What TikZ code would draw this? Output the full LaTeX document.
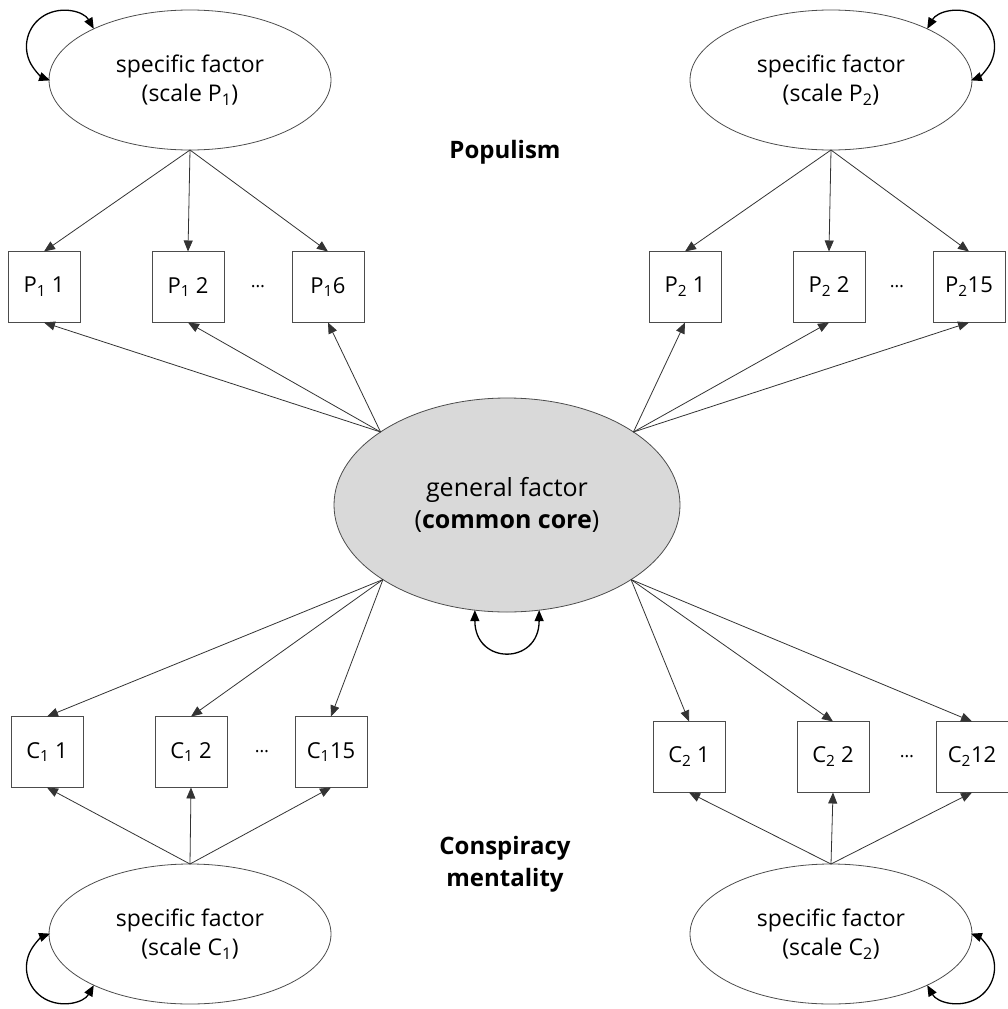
\documentclass[tikz,border=0pt]{standalone}
\usepackage{fontspec}
\setmainfont{Open Sans}
\usetikzlibrary{arrows.meta,shapes.geometric,calc}
\begin{document}
\begin{tikzpicture}[x=1pt,y=1pt,
  lat/.style={ellipse,draw=black!70,line width=0.8pt,minimum width=282pt,minimum height=140pt,inner sep=0pt,outer sep=0pt,align=center,font=\fontsize{23}{29}\selectfont},
  gen/.style={ellipse,draw=black!70,fill=black!15,line width=0.8pt,minimum width=346pt,minimum height=214pt,inner sep=0pt,outer sep=0pt,align=center,font=\fontsize{25}{32}\selectfont},
  obs/.style={rectangle,draw=black!70,line width=0.8pt,minimum width=72pt,minimum height=71pt,inner sep=0pt,outer sep=0pt,font=\fontsize{22}{26}\selectfont},
  dotlbl/.style={font=\fontsize{18}{20}\selectfont,inner sep=0pt},
  ttl/.style={font=\bfseries\fontsize{24}{32}\selectfont,align=center,inner sep=0pt},
  ld/.style={draw=black!80,line width=0.8pt,-{Triangle[length=11pt,width=9pt]}},
  cov/.style={draw=black,line width=1.3pt,{Triangle[length=11pt,width=9pt]}-{Triangle[length=11pt,width=9pt]}}
]
\useasboundingbox (0,0) rectangle (1008,-1009);
% latent variables
\node[lat] (P1) at (190,-80) {specific factor\\(scale P\textsubscript{1})};
\node[lat] (P2) at (831,-80) {specific factor\\(scale P\textsubscript{2})};
\node[lat] (C1) at (190,-934) {specific factor\\(scale C\textsubscript{1})};
\node[lat] (C2) at (831,-934) {specific factor\\(scale C\textsubscript{2})};
\node[gen] (G) at (507,-505) {general factor\\(\textbf{common core})};
% observed
\node[obs] (p11) at (44,-287) {P\textsubscript{1} 1};
\node[obs] (p12) at (188,-287) {P\textsubscript{1} 2};
\node[obs] (p16) at (328,-287) {P\textsubscript{1}6};
\node[dotlbl] (d1) at (258,-287) {…};
\node[obs] (p21) at (685,-287) {P\textsubscript{2} 1};
\node[obs] (p22) at (829,-287) {P\textsubscript{2} 2};
\node[obs] (p215) at (969,-287) {P\textsubscript{2}15};
\node[dotlbl] (d2) at (897,-287) {…};
\node[obs] (c11) at (47,-752) {C\textsubscript{1} 1};
\node[obs] (c12) at (191,-752) {C\textsubscript{1} 2};
\node[obs] (c115) at (331,-752) {C\textsubscript{1}15};
\node[dotlbl] (d3) at (262,-752) {…};
\node[obs] (c21) at (689,-757) {C\textsubscript{2} 1};
\node[obs] (c22) at (833,-757) {C\textsubscript{2} 2};
\node[obs] (c212) at (972,-757) {C\textsubscript{2}12};
\node[dotlbl] (d4) at (907,-757) {…};
% titles
\node[ttl] (pop) at (505,-152) {Populism};
\node[ttl] (con) at (505,-864) {Conspiracy\\mentality};
% loadings: specific factors
\foreach \b in {p11,p12,p16} \draw[ld] (P1.south) -- (\b.north);
\foreach \b in {p21,p22,p215} \draw[ld] (P2.south) -- (\b.north);
\foreach \b in {c11,c12,c115} \draw[ld] (C1.north) -- (\b.south);
\foreach \b in {c21,c22,c212} \draw[ld] (C2.north) -- (\b.south);
% loadings: general factor
\foreach \b in {p11,p12,p16} \draw[ld] (G.150) -- (\b.south);
\foreach \b in {p21,p22,p215} \draw[ld] (G.30) -- (\b.south);
\foreach \b in {c11,c12,c115} \draw[ld] (G.211) -- (\b.north);
\foreach \b in {c21,c22,c212} \draw[ld] (G.329) -- (\b.north);
% variances
\draw[cov] (P1.152) arc[start angle=29.5,end angle=250,radius=36];
\draw[cov] (P2.28) arc[start angle=150.5,end angle=-70,radius=36];
\draw[cov] (C1.208) arc[start angle=-29.5,end angle=-250,radius=36];
\draw[cov] (C2.332) arc[start angle=209.5,end angle=430,radius=36];
\draw[cov] (G.253) to[out=-90,in=-90,looseness=2.2] (G.287);
\end{tikzpicture}
\end{document}
